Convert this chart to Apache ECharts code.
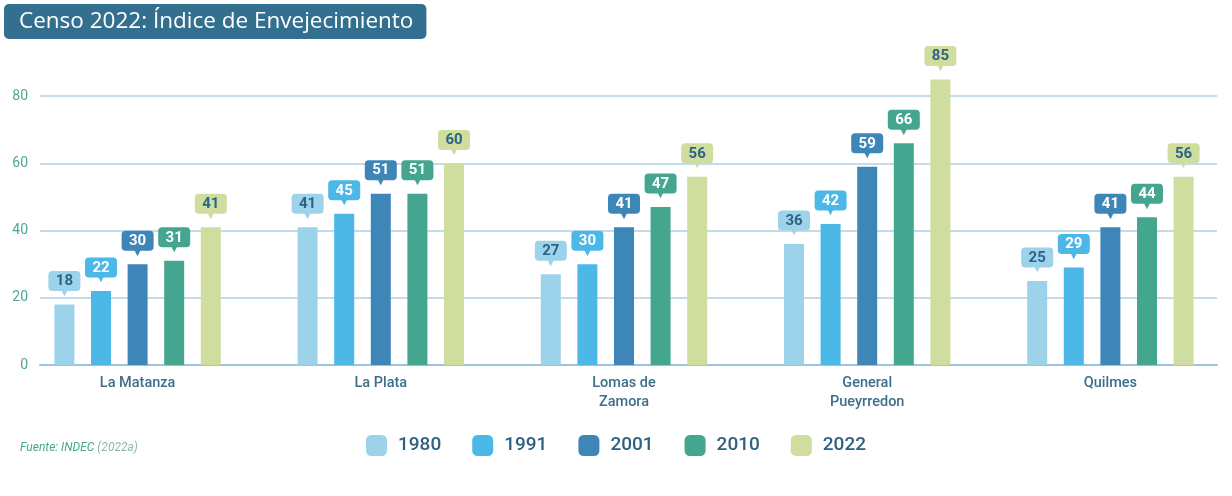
<!DOCTYPE html>
<html>
<head>
<meta charset="utf-8">
<script src="https://cdn.jsdelivr.net/npm/echarts@6/dist/echarts.min.js"></script>
<style>html,body{margin:0;padding:0;background:#fff;}#c{width:1232px;height:496px;}</style>
</head>
<body>
<div id="c"></div>
<script>
const categories = ['La Matanza', 'La Plata', 'Lomas de\nZamora', 'General\nPueyrredon', 'Quilmes'];
const years = ['1980', '1991', '2001', '2010', '2022'];
const v1980 = [18, 41, 27, 36, 25];
const v1991 = [22, 45, 30, 42, 29];
const v2001 = [30, 51, 41, 59, 41];
const v2010 = [31, 51, 47, 66, 44];
const v2022 = [41, 60, 56, 85, 56];
const yTicks = [0, 20, 40, 60, 80, 100];

const values = [v1980, v1991, v2001, v2010, v2022];
const colors = ['#9dd3ea', '#4bb8e8', '#3f86b8', '#45a68f', '#cfdd9f'];
const labelText = ['#2d6383', '#ffffff', '#ffffff', '#ffffff', '#2d6383'];

const chart = echarts.init(document.getElementById('c'));
const series = years.map((y, i) => ({
  name: y,
  type: 'bar',
  xAxisIndex: 1,
  yAxisIndex: 1,
  barWidth: 20,
  barGap: '83%',
  data: values[i],
  itemStyle: { color: colors[i] },
  label: {
    show: true,
    position: 'top',
    distance: 9,
    formatter: (p) => '{v|' + p.value + '}\n{p|▼}',
    rich: {
      v: {
        backgroundColor: colors[i],
        color: labelText[i],
        borderRadius: 4,
        fontFamily: 'Roboto',
        fontWeight: 'bold',
        fontSize: 15,
        lineHeight: 15,
        width: 22,
        align: 'center',
        padding: [3, 5, 2, 5]
      },
      p: {
        color: colors[i],
        fontSize: 11,
        lineHeight: 7,
        align: 'center',
        fontFamily: 'DejaVu Sans'
      }
    }
  }
}));

chart.setOption({
  animation: false,
  title: {
    text: 'Censo 2022: Índice de Envejecimiento',
    left: 4,
    top: 4,
    backgroundColor: '#33708f',
    borderRadius: 5,
    padding: [5, 13, 5, 15],
    textStyle: { color: '#ffffff', fontFamily: 'Open Sans', fontWeight: 'normal', fontSize: 22.5, lineHeight: 25 }
  },
  graphic: [{
    type: 'text',
    left: 20,
    top: 442,
    style: {
      text: '{a|Fuente: INDEC }{b|(2022a)}',
      rich: {
        a: { fill: '#45a892', fontStyle: 'italic', fontFamily: 'Roboto', fontSize: 12 },
        b: { fill: '#8fb5b0', fontStyle: 'italic', fontFamily: 'Roboto', fontSize: 12 }
      }
    }
  }],
  legend: {
    data: years,
    left: 'center',
    top: 430,
    icon: 'roundRect',
    itemWidth: 21,
    itemHeight: 21,
    itemGap: 31,
    textStyle: { color: '#2e6080', fontFamily: 'Roboto', fontWeight: 500, fontSize: 19, padding: [0, 0, 0, 6] }
  },
  grid: [
    { left: 40, right: 15, top: 29, bottom: 131 },
    { left: 16, width: 1221, top: 29, bottom: 131 }
  ],
  xAxis: [
    {
      gridIndex: 0, type: 'value', min: 0, max: 1,
      axisLine: { show: true, onZero: false, lineStyle: { color: '#9cc4df', width: 2 } },
      axisTick: { show: false }, axisLabel: { show: false }, splitLine: { show: false }
    },
    {
      gridIndex: 1, type: 'category', data: categories,
      axisLine: { show: false }, axisTick: { show: false }, splitLine: { show: false },
      axisLabel: { color: '#3d6e8a', fontFamily: 'Roboto', fontWeight: 500, fontSize: 14.5, lineHeight: 19, margin: 9 }
    }
  ],
  yAxis: [
    {
      gridIndex: 0, type: 'value', min: yTicks[0], max: yTicks[yTicks.length - 1], interval: 20,
      axisLine: { show: false }, axisTick: { show: false },
      axisLabel: { color: '#4fa596', fontFamily: 'Roboto', fontSize: 14, margin: 12, showMaxLabel: false },
      splitLine: { showMaxLine: false, lineStyle: { color: '#b3cfe3', width: 1.5 } }
    },
    {
      gridIndex: 1, type: 'value', min: yTicks[0], max: yTicks[yTicks.length - 1], interval: 20,
      show: false, splitLine: { show: false }
    }
  ],
  series: series
});
</script>
</body>
</html>
